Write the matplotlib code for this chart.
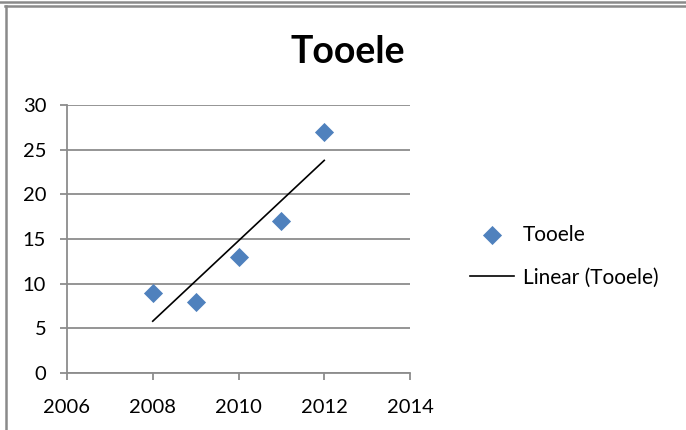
import numpy as np
import matplotlib
matplotlib.use("Agg")
import matplotlib.pyplot as plt
from matplotlib.lines import Line2D

years = [2008, 2009, 2010, 2011, 2012]
values = [9, 8, 13, 17, 27]
series_name = "Tooele"
trend_name = "Linear (Tooele)"
x_ticks = [2006, 2008, 2010, 2012, 2014]
y_ticks = [0, 5, 10, 15, 20, 25, 30]

plt.rcParams['font.family'] = ['Lato', 'DejaVu Sans']

W, H = 686, 430
fig = plt.figure(figsize=(W / 100, H / 100), dpi=100)

def px(x0, x1, y0, y1):
    return [x0 / W, x1 / W], [1 - y0 / H, 1 - y1 / H]

grey = '#8a8a8a'
for (xs, ys) in [px(0, W, 1.5, 1.5), px(5, W, 6, 6), px(5.5, 5.5, 6, H)]:
    fig.add_artist(Line2D(xs, ys, transform=fig.transFigure, color=grey, lw=1.8))

ax = fig.add_axes([67 / W, (H - 373) / H, (410 - 67) / W, (373 - 105) / H])

ax.scatter(years, values, marker='D', s=95, color='#4F81BD', zorder=3, label=series_name, linewidths=0)
coef = np.polyfit(years, values, 1)
xs = np.array([years[0], years[-1]])
ax.plot(xs, np.polyval(coef, xs), color='black', lw=1.2, zorder=2, label=trend_name)

ax.set_xlim(2006, 2014)
ax.set_ylim(0, 30)
ax.set_xticks(x_ticks)
ax.set_yticks(y_ticks)
ax.grid(axis='y', color='#8c8c8c', lw=1.3)
ax.set_axisbelow(True)
for s in ['top', 'right']:
    ax.spines[s].set_visible(False)
for s in ['left', 'bottom']:
    ax.spines[s].set_color('#8c8c8c')
    ax.spines[s].set_linewidth(1.3)
ax.tick_params(axis='both', color='#8c8c8c', length=5, width=1.3, labelsize=14.5, labelcolor='black')
ax.tick_params(axis='x', pad=14)
ax.tick_params(axis='y', pad=10)

fig.text(348 / W, 1 - 52 / H, 'Tooele', fontsize=27, fontweight='bold', ha='center', va='center')

leg = fig.legend(loc='center left', bbox_to_anchor=(470 / W, 1 - 256 / H), frameon=False,
                 fontsize=15, handlelength=2.1, handletextpad=0.45, labelspacing=1.1,
                 borderpad=0, borderaxespad=0)

fig.savefig('out.png', dpi=100)
